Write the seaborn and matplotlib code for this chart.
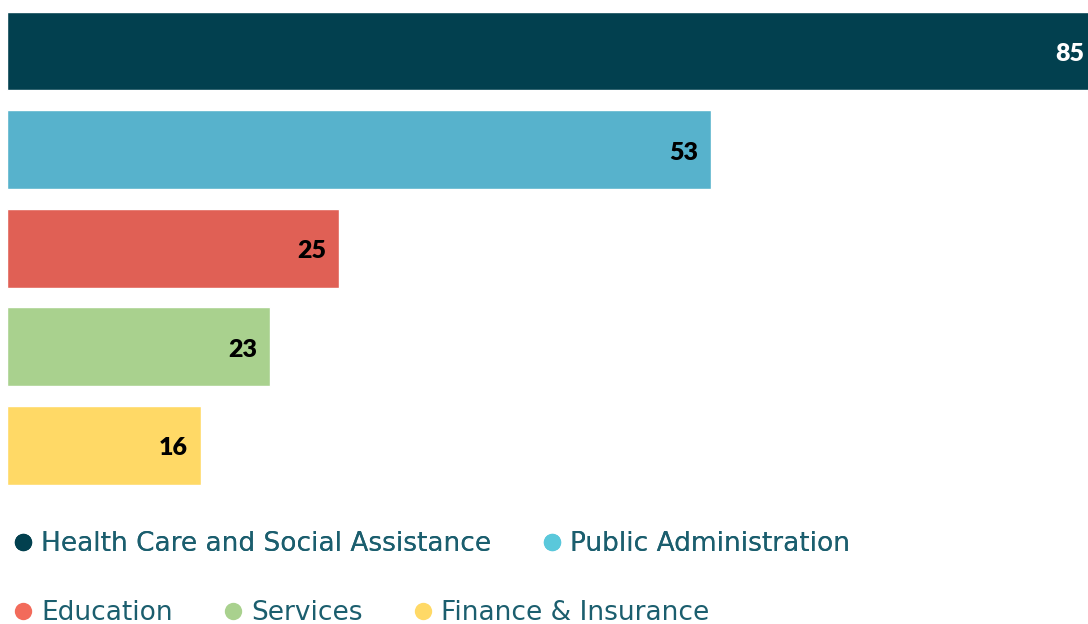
import matplotlib
matplotlib.use("Agg")
import matplotlib.pyplot as plt
from matplotlib.lines import Line2D
import seaborn as sns
import pandas as pd

categories = ["Health Care and Social Assistance", "Public Administration",
              "Education", "Services", "Finance & Insurance"]
bar_lengths = [85.0, 54.9, 25.9, 20.5, 15.1]   # bar extents
value_labels = ["85", "53", "25", "23", "16"]
bar_colors = ["#02404F", "#57B2CC", "#E06055", "#A9D18E", "#FFD966"]
marker_colors = ["#02404F", "#5AC8DB", "#F26B5B", "#A9D18E", "#FFD966"]
label_colors = ["white", "black", "black", "black", "black"]

sns.set_theme(style="white")
plt.rcParams["font.family"] = ["DejaVu Sans"]

df = pd.DataFrame({"category": categories, "value": bar_lengths})

fig = plt.figure(figsize=(10.88, 6.24), dpi=100)
ax = fig.add_axes([7 / 1088, 1 - 494.7 / 624, 1081 / 1088, 493 / 624])
sns.barplot(data=df, y="category", x="value", hue="category", order=categories,
            hue_order=categories, palette=bar_colors, orient="h", width=0.8,
            dodge=False, legend=False, saturation=1, ax=ax)
ax.set_xlim(0, 1081 / (1090 / 85))
ax.set_ylim(4.5, -0.5)
ax.axis("off")

for i, (v, t, c) in enumerate(zip(bar_lengths, value_labels, label_colors)):
    ax.annotate(t, xy=(v, i), xytext=(-13, -3), textcoords="offset pixels",
                ha="right", va="center", fontsize=18, fontweight="heavy",
                color=c, family="Lato", annotation_clip=False, clip_on=False)

text_color = "#1B5E6E"
handles = [Line2D([0], [0], marker="o", linestyle="none", markersize=12.5,
                  markerfacecolor=mc, markeredgewidth=0) for mc in marker_colors]

common = dict(loc="center left", frameon=False, fontsize=19,
              labelcolor=text_color, handletextpad=0.28, columnspacing=1.9,
              borderaxespad=0, borderpad=0.47, handlelength=0.8)
leg1 = fig.legend(handles[:2], categories[:2], ncol=2,
                  bbox_to_anchor=(0.0, 1 - 544 / 624), **common)
fig.add_artist(leg1)
leg2 = fig.legend(handles[2:], categories[2:], ncol=3,
                  bbox_to_anchor=(0.0, 1 - 613 / 624), **common)

fig.savefig("out.png", dpi=100)
